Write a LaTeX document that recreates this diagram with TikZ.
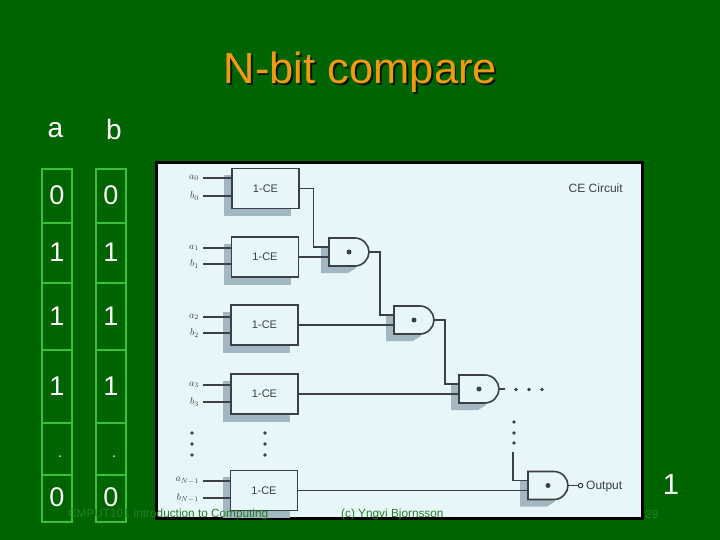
\documentclass[tikz,border=0pt]{standalone}
\usepackage{fontspec}
\setmainfont{Liberation Sans}
\definecolor{slidebg}{HTML}{006400}
\definecolor{panelbg}{HTML}{E6F6F9}
\definecolor{shadowc}{HTML}{A3B7C3}
\definecolor{inkc}{HTML}{3A4044}
\definecolor{cellc}{HTML}{3CC03C}
\definecolor{titlec}{HTML}{F09A10}
\definecolor{footc}{HTML}{247F24}
\tikzset{
  x=1pt,y=-1pt,
  wire/.style={draw=inkc,line width=1.1pt},
  cebox/.style={draw=inkc,line width=1.8pt,fill=panelbg,minimum width=67pt,minimum height=40pt,inner sep=0pt,font=\fontsize{11}{11}\selectfont,text=inkc},
  shadowbox/.style={fill=shadowc,draw=none,minimum width=67pt,minimum height=41pt,inner sep=0pt},
  gatebody/.style={draw=inkc,line width=1.6pt,fill=panelbg},
  gateanchor/.style={minimum width=40pt,minimum height=28pt,inner sep=0pt,draw=none},
  sym/.style={text=inkc,font=\fontsize{10}{10}\selectfont,inner sep=0pt},
  dotc/.style={circle,fill=inkc,inner sep=0pt,minimum size=3.6pt},
  cell/.style={draw=cellc,line width=1.7pt,minimum width=30pt,inner sep=0pt,anchor=north},
  digit/.style={text=white,font=\fontsize{27}{27}\selectfont,inner sep=0pt},
  hdr/.style={text=white,font=\fontsize{28}{28}\selectfont,inner sep=0pt},
  foot/.style={text=footc,font=\fontsize{11.8}{11.8}\selectfont,inner sep=0pt,anchor=west},
  panelcap/.style={text=inkc,font=\fontsize{12}{12}\selectfont,inner sep=0pt,anchor=west},
}
\newcommand{\andgate}[3]{%
  \fill[shadowc] (#2-8,#3-5) -- (#2+20,#3-5) -- (#2+27,#3+16) -- (#2+19,#3+21) -- (#2-8,#3+21) -- cycle;
  \path[gatebody] (#2,#3-14) -- (#2+26,#3-14) .. controls (#2+34,#3-14) and (#2+40,#3-7) .. (#2+40,#3) .. controls (#2+40,#3+7) and (#2+34,#3+14) .. (#2+26,#3+14) -- (#2,#3+14) -- cycle;
  \node[gateanchor] (#1) at (#2+20,#3) {};
  \node[dotc,minimum size=5pt] (#1dot) at (#2+20,#3) {};
  \coordinate (#1up) at (#2,#3-5);
  \coordinate (#1lo) at (#2,#3+5);
  \coordinate (#1out) at (#2+40,#3);
}
\begin{document}
\begin{tikzpicture}
\useasboundingbox (0,0) rectangle (720,540);
\fill[slidebg] (0,0) rectangle (720,540);

% title
\node[text=black!75!slidebg,font=\fontsize{43.5}{43.5}\selectfont,inner sep=0pt] (titleshadow) at (362,74) {N-bit compare};
\node[text=titlec,font=\fontsize{43.5}{43.5}\selectfont,inner sep=0pt] (title) at (360.5,72.5) {N-bit compare};

% table
\node[hdr] (ha) at (55.5,130) {a};
\node[hdr] (hb) at (114,129) {b};
\foreach \col/\cx in {a/57,b/111}{
  \node[cell,minimum height=54pt] (\col0) at (\cx,168) {};
  \node[cell,minimum height=60pt] (\col1) at (\cx,222) {};
  \node[cell,minimum height=67pt] (\col2) at (\cx,282) {};
  \node[cell,minimum height=73pt] (\col3) at (\cx,349) {};
  \node[cell,minimum height=52pt] (\col4) at (\cx,422) {};
  \node[cell,minimum height=47pt] (\col5) at (\cx,474) {};
  \node[digit] (\col0t) at (\cx,195.5) {0};
  \node[digit] (\col1t) at (\cx,252) {1};
  \node[digit] (\col2t) at (\cx,316) {1};
  \node[digit] (\col3t) at (\cx,386) {1};
  \node[digit,font=\fontsize{14}{14}\selectfont] (\col4t) at (\cx+3,457) {.};
  \node[digit] (\col5t) at (\cx,497) {0};
}

% panel
\fill[black] (155,161) rectangle (644,520);
\fill[panelbg] (158,164) rectangle (641,517);

% CE blocks
\foreach \n/\cx/\cy in {0/265.5/188.5,1/265/257,2/264.5/325,3/264.5/394,4/264/490.5}{
  \node[shadowbox] (s\n) at (\cx-8,\cy+7) {};
}
\node[cebox] (b0) at (265.5,188.5) {1-CE};
\node[cebox] (b1) at (265,257) {1-CE};
\node[cebox] (b2) at (264.5,325) {1-CE};
\node[cebox] (b3) at (264.5,394) {1-CE};
\node[cebox] (b4) at (264,490.5) {1-CE};

% gates
\andgate{g1}{329}{252}
\andgate{g2}{394}{320}
\andgate{g3}{459}{389}
\andgate{g4}{528}{485.5}

% inputs
\node[sym,anchor=east] (a0) at (199,178) {$a_0$};
\node[sym,anchor=east] (c0) at (199,196) {$b_0$};
\node[sym,anchor=east] (a1) at (199,248) {$a_1$};
\node[sym,anchor=east] (c1) at (199,264) {$b_1$};
\node[sym,anchor=east] (a2) at (199,317) {$a_2$};
\node[sym,anchor=east] (c2) at (199,333) {$b_2$};
\node[sym,anchor=east] (a3) at (199,385) {$a_3$};
\node[sym,anchor=east] (c3) at (199,402) {$b_3$};
\node[sym,anchor=east] (a4) at (199,481) {$a_{N-1}$};
\node[sym,anchor=east] (c4) at (199,498) {$b_{N-1}$};
\foreach \n in {0,1,2,3,4}{
  \draw[wire] ([xshift=4pt]a\n.east) -- (a\n.east -| b\n.west);
  \draw[wire] ([xshift=4pt]c\n.east) -- (c\n.east -| b\n.west);
}

% wires
\draw[wire] (b0.east) -- ++(13.5,0) |- (g1up);
\draw[wire] (b1.east) -- (g1lo);
\draw[wire] (g1out) -- ++(11,0) |- (g2up);
\draw[wire] (b2.east) -- (g2lo);
\draw[wire] (g2out) -- ++(11,0) |- (g3up);
\draw[wire] (b3.east) -- (g3lo);
\coordinate (g3tail) at (505,389);
\draw[wire] (g3out) -- (g3tail);
\coordinate (g4feed) at (513,452);
\draw[wire] (g4feed) |- (g4up);
\draw[wire] (b4.east) -- (g4lo);
\node[circle,draw=inkc,line width=1pt,fill=panelbg,inner sep=0pt,minimum size=4.5pt] (outc) at (580.5,485.5) {};
\draw[wire] (g4out) -- (outc);

% dots
\foreach \i/\dx in {1/516,2/529,3/542}{\node[dotc] (hd\i) at (\dx,389.5) {};}
\foreach \i/\dy in {1/422,2/433,3/443}{\node[dotc] (vd\i) at (514,\dy) {};}
\foreach \i/\dy in {1/433,2/444,3/455}{\node[dotc] (la\i) at (192,\dy) {};}
\foreach \i/\dy in {1/433,2/444,3/455}{\node[dotc] (lb\i) at (265,\dy) {};}

% panel labels
\node[panelcap] (output) at (586,486.5) {Output};
\node[panelcap] (cecirc) at (568.5,188.5) {CE Circuit};

% result
\node[digit,font=\fontsize{29}{29}\selectfont] (res) at (671,484.5) {1};

% footer
\node[foot] (f1) at (68,514) {CMPUT101 Introduction to Computing};
\node[foot] (f2) at (341,514) {(c) Yngvi Bjornsson};
\node[foot] (f3) at (645,514) {29};
\end{tikzpicture}
\end{document}
